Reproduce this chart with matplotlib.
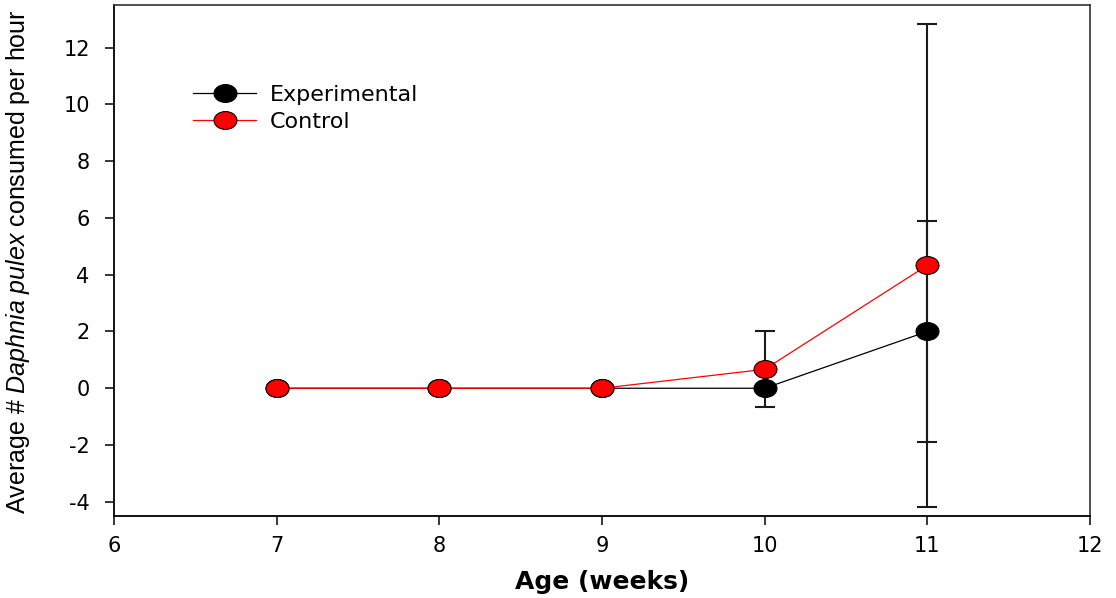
import matplotlib
matplotlib.use("Agg")
import matplotlib.pyplot as plt
from matplotlib import font_manager
from matplotlib.path import Path
from matplotlib.transforms import Affine2D

# Feeding data: average number of Daphnia pulex eaten per hour, by age
ages = [7, 8, 9, 10, 11]
experimental = [0.0, 0.0, 0.0, 0.0, 2.0]
experimental_err = [0.0, 0.0, 0.0, 0.0, 3.9]
control = [0.0, 0.0, 0.0, 0.667, 4.33]
control_err = [0.0, 0.0, 0.0, 1.333, 8.5]

x_ticks = [6, 7, 8, 9, 10, 11, 12]
y_ticks = [-4, -2, 0, 2, 4, 6, 8, 10, 12]


def pick_font(candidates):
    for name in candidates:
        try:
            font_manager.findfont(font_manager.FontProperties(family=name),
                                  fallback_to_default=False)
            return name
        except Exception:
            continue
    return "DejaVu Sans"


label_font = pick_font(["Liberation Sans", "Arimo"])

plt.rcParams["font.family"] = ["DejaVu Sans"]
plt.rcParams["mathtext.fontset"] = "custom"
plt.rcParams["mathtext.rm"] = label_font
plt.rcParams["mathtext.it"] = label_font + ":italic"

# slightly wide oval marker
oval = Path.unit_circle().transformed(Affine2D().scale(1.28, 1.0))

fig = plt.figure(figsize=(11.16, 5.98), dpi=100)
ax = fig.add_axes([114 / 1116, 82 / 598, 976 / 1116, 511 / 598])

ax.errorbar(ages, experimental, yerr=experimental_err, fmt="none",
            ecolor="#1a1a1a", elinewidth=1.5, capsize=7, capthick=1.5, zorder=2)
ax.errorbar(ages, control, yerr=control_err, fmt="none",
            ecolor="#1a1a1a", elinewidth=1.5, capsize=7, capthick=1.5, zorder=2)

ax.plot(ages, experimental, color="black", linewidth=0.9, marker=oval,
        markersize=16.5, markerfacecolor="black", markeredgecolor="black",
        markeredgewidth=0.8, label="Experimental", zorder=3)
ax.plot(ages, control, color="#ff0000", linewidth=0.9, marker=oval,
        markersize=16.5, markerfacecolor="#ff0000", markeredgecolor="black",
        markeredgewidth=0.8, label="Control", zorder=4)

ax.set_xlim(6, 12)
ax.set_ylim(-4.5, 13.5)
ax.set_xticks(x_ticks)
ax.set_yticks(y_ticks)
ax.set_xticklabels([str(v) for v in x_ticks])
ax.set_yticklabels([str(v) for v in y_ticks])

ax.tick_params(axis="both", direction="out", length=6.5, width=1.1,
               labelsize=15, colors="black", top=False, right=False)
ax.tick_params(axis="y", pad=11)
ax.tick_params(axis="x", pad=8)

for side in ["left", "bottom"]:
    ax.spines[side].set_linewidth(1.3)
    ax.spines[side].set_color("black")
for side in ["top", "right"]:
    ax.spines[side].set_linewidth(1.2)
    ax.spines[side].set_color("#333333")

ax.set_xlabel("Age (weeks)", fontsize=18, fontweight="bold")
ax.xaxis.set_label_coords(0.5, -0.105)
ax.set_ylabel(r"Average # $\mathit{Daphnia\ pulex}$ consumed per hour",
              fontsize=18, family=[label_font, "DejaVu Sans"])
ax.yaxis.set_label_coords(-0.084, 0.497)

leg = ax.legend(loc="upper left", bbox_to_anchor=(0.081, 0.843), frameon=False,
                fontsize=16, handlelength=2.85, handletextpad=0.6,
                labelspacing=0.3, borderpad=0, borderaxespad=0)

fig.savefig("out.png", dpi=100)
